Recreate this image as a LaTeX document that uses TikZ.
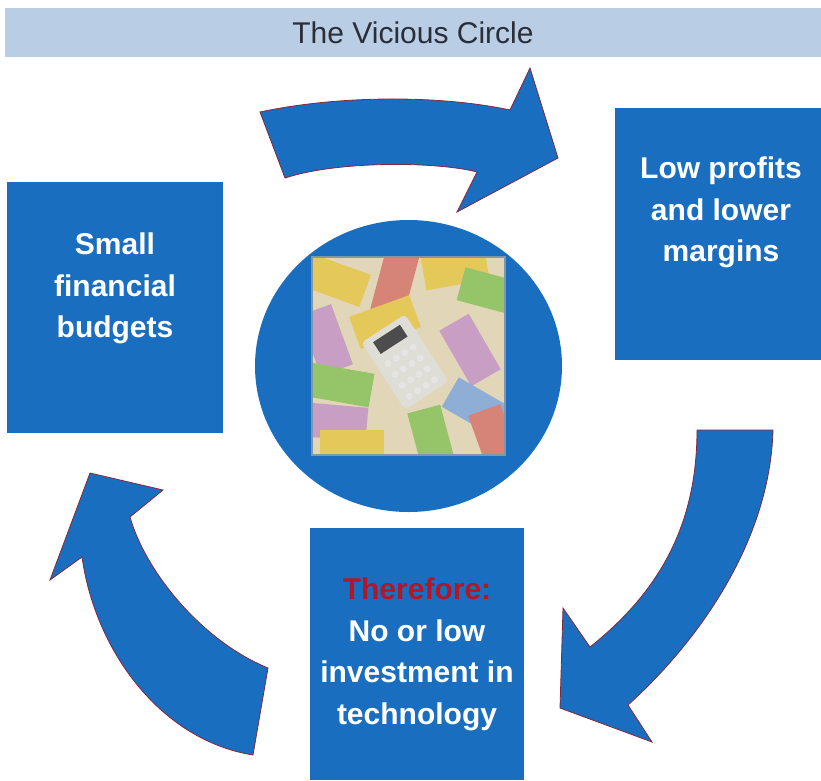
\documentclass[tikz,border=0pt]{standalone}
\usepackage{fontspec}
\setmainfont{Liberation Sans}
\usetikzlibrary{shapes, arrows}
\definecolor{boxblue}{RGB}{26,110,192}
\definecolor{bannerblue}{RGB}{185,205,229}
\definecolor{titlegray}{RGB}{42,46,56}
\definecolor{redword}{RGB}{180,22,40}
\definecolor{rimred}{RGB}{130,40,60}
\definecolor{photobase}{RGB}{226,214,184}
\definecolor{photorim}{RGB}{130,150,170}
\definecolor{noteyellow}{RGB}{228,200,90}
\definecolor{notegreen}{RGB}{150,196,105}
\definecolor{notepurple}{RGB}{200,158,196}
\definecolor{notered}{RGB}{214,132,120}
\definecolor{noteblue}{RGB}{142,174,214}
\definecolor{calcgray}{RGB}{222,222,214}
\tikzstyle{block} = [rectangle, fill=boxblue, inner sep=0pt]
\tikzstyle{boxtext} = [text=white, align=center, inner sep=0pt, font=\bfseries\fontsize{30}{41.5}\selectfont]
\tikzstyle{banner} = [rectangle, fill=bannerblue, text=titlegray, inner sep=0pt, font=\fontsize{30}{36}\selectfont]
\tikzstyle{hub} = [ellipse, fill=boxblue, inner sep=0pt]
\tikzstyle{roundarrow} = [fill=boxblue, draw=rimred, line width=0.8pt]

\begin{document}
\begin{tikzpicture}[x=1pt, y=-1pt]
\useasboundingbox (0,0) rectangle (821,780);

%---------------------------------------------
%titulo
%---------------------------------------------
\node [banner, minimum width=816, minimum height=49] (titulo) at (413,32.5) {The Vicious Circle};

%---------------------------------------------
%as tres caixas azuis
%---------------------------------------------
\node [block, minimum width=216, minimum height=251] (budgets) at (115,307.5) {};
\node [boxtext] (budgetstext) at (115,288.5) {Small\\financial\\budgets};

\node [block, minimum width=206, minimum height=252] (profits) at (718,234) {};
\node [boxtext] (profitstext) at (721,212.5) {Low profits\\and lower\\margins};

\node [block, minimum width=214, minimum height=252] (investment) at (417,654) {};
\node [boxtext] (investmenttext) at (417,654.5) {{\color{redword}Therefore:}\\No or low\\investment in\\technology};

%---------------------------------------------
%circulo central com a foto
%---------------------------------------------
\node [hub, minimum width=307, minimum height=292] (hub) at (408.5,366) {};
\node [rectangle, fill=photobase, inner sep=0pt, minimum width=193, minimum height=198] (photo) at (408.5,356) {};

\begin{scope}
\clip (photo.south west) rectangle (photo.north east);
% notas
\foreach \x/\y/\a/\c in {335/280/-20/noteyellow, 395/282/75/notered, 455/268/10/noteyellow,
  492/292/-15/notegreen, 385/322/20/noteyellow, 326/340/-70/notepurple, 340/385/-10/notegreen,
  470/350/-60/notepurple, 478/408/-30/noteblue, 335/422/-5/notepurple, 495/440/-70/notered,
  432/440/-75/notegreen, 352/447/0/noteyellow}
  \fill [\c, rotate around={\a:(\x,\y)}] (\x-32,\y-17) rectangle (\x+32,\y+17);
% calculadora
\begin{scope}[shift={(405,362)}, rotate=-57]
\fill [calcgray, rounded corners=4] (-40,-26) rectangle (40,26);
\fill [black!70] (-34,-16) rectangle (-20,16);
\foreach \i in {0,...,3}
  \foreach \j in {0,...,3}
    \fill [white!80!gray] (-8+\i*13,-15+\j*10) circle (3.5);
\end{scope}
\end{scope}
\draw [photorim, line width=2.5pt] (photo.south west) rectangle (photo.north east);

%---------------------------------------------
%setas curvas
%---------------------------------------------
\path [roundarrow] (260,112) .. controls (340,95) and (440,95) .. (510,110) -- (530,68) -- (558,158)
  -- (457,212) -- (477,172) .. controls (440,162) and (340,160) .. (285,178) -- cycle;

\path [roundarrow] (697,430) -- (773,430) .. controls (770,540) and (700,640) .. (628,705)
  -- (652,742) -- (560,708) -- (563,608) -- (590,647) .. controls (655,595) and (697,530) .. (697,430) -- cycle;

\path [roundarrow] (90,473) -- (163,490) -- (130,517) .. controls (145,570) and (200,640) .. (268,668)
  -- (253,755) .. controls (160,740) and (95,650) .. (82,557) -- (50,580) -- cycle;

\end{tikzpicture}
\end{document}
